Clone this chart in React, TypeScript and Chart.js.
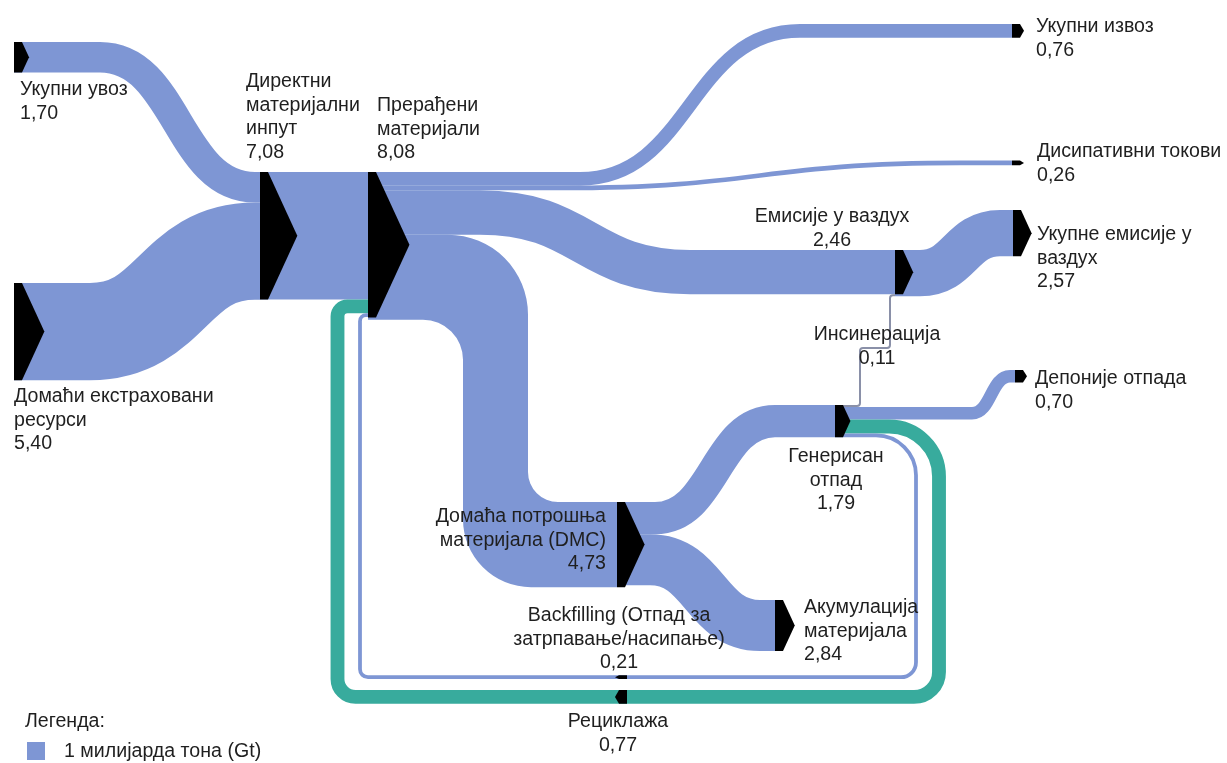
import React, { useEffect, useRef } from 'react';
import { Chart, registerables } from 'chart.js';

Chart.register(...registerables);

// ---------------- data ----------------
const NODE_NAMES = [
  'Укупни увоз',
  'Домаћи екстраховани ресурси',
  'Директни материјални инпут',
  'Прерађени материјали',
  'Укупни извоз',
  'Дисипативни токови',
  'Емисије у ваздух',
  'Укупне емисије у ваздух',
  'Депоније отпада',
  'Генерисан отпад',
  'Домаћа потрошња материјала (DMC)',
  'Акумулација материјала',
  'Рециклажа',
  'Backfilling (Отпад за затрпавање/насипање)',
];
// label lines as printed in the figure
const NODE_LABEL_LINES = [
  ['Укупни увоз'],
  ['Домаћи екстраховани', 'ресурси'],
  ['Директни', 'материјални', 'инпут'],
  ['Прерађени', 'материјали'],
  ['Укупни извоз'],
  ['Дисипативни токови'],
  ['Емисије у ваздух'],
  ['Укупне емисије у', 'ваздух'],
  ['Депоније отпада'],
  ['Генерисан', 'отпад'],
  ['Домаћа потрошња', 'материјала (DMC)'],
  ['Акумулација', 'материјала'],
  ['Рециклажа'],
  ['Backfilling (Отпад за', 'затрпавање/насипање)'],
];
const NODE_VALUES = [1.7, 5.4, 7.08, 8.08, 0.76, 0.26, 2.46, 2.57, 0.7, 1.79, 4.73, 2.84, 0.77, 0.21];

const LINK_SOURCES = [0, 1, 2, 3, 3, 3, 3, 6, 10, 10, 9, 9, 9, 9, 12, 13];
const LINK_TARGETS = [2, 2, 3, 4, 5, 6, 10, 7, 9, 11, 6, 8, 12, 13, 3, 3];
const LINK_VALUES = [1.7, 5.4, 7.08, 0.76, 0.26, 2.46, 4.73, 2.57, 1.79, 2.84, 0.11, 0.7, 0.77, 0.21, 0.77, 0.21];
const LINK_KINDS = [
  'mass', 'mass', 'mass', 'mass', 'mass', 'mass', 'mass', 'mass', 'mass', 'mass',
  'incineration', 'mass', 'recycling', 'backfill', 'recycling', 'backfill',
];
const INCINERATION_LINK = 10;
const INCINERATION_LABEL = 'Инсинерација';

const LEGEND_TITLE = 'Легенда:';
const LEGEND_TEXT = '1 милијарда тона (Gt)';
const LEGEND_VALUE = 1;

// ---------------- layout / style ----------------
const UNITS_PER_GT = 18; // vertical layout units per gigatonne
const NODE_X = [14, 14, 260, 368, 1012, 1012, 895, 1013, 1015, 835, 617, 775, 627, 627];
const NODE_TOP = [42, 283, 172, 172, 24, 160.6, 250, 210, 370, 405, 502, 600, 690, 675.3];
const NODE_DIR = [1, 1, 1, 1, 1, 1, 1, 1, 1, 1, 1, 1, -1, -1];

type Route = {
  s?: [number, number];
  legs?: number[];
  radii?: number[];
  vw?: number; // width of vertical legs (layout units) for filled bands
  radiiA?: number[];
  radiiB?: number[];
};
const LINK_ROUTES: Route[] = [
  { s: [100, 255] },
  { s: [90, 255] },
  { s: [300, 300] },
  { s: [580, 800] },
  { s: [560, 960] },
  { s: [480, 690] },
  { legs: [495.5], vw: 65, radiiA: [80, 30], radiiB: [40, 68] },
  { s: [920, 1000] },
  { s: [655, 775] },
  { s: [650, 760] },
  { legs: [860, 348, 890], radii: [3, 3, 3, 3] },
  { s: [972, 1010] },
  { legs: [939], radii: [50, 25] },
  { legs: [916], radii: [40, 15] },
  { legs: [337.5], radii: [18, 10] },
  { legs: [360], radii: [8, 6] },
];

// [x, y of first line centre, align]
const LABEL_POS: [number, number, CanvasTextAlign][] = [
  [20, 90, 'left'],
  [14, 397, 'left'],
  [246, 82, 'left'],
  [377, 106, 'left'],
  [1036, 27, 'left'],
  [1037, 152, 'left'],
  [832, 217, 'center'],
  [1037, 235, 'left'],
  [1035, 379, 'left'],
  [836, 457, 'center'],
  [606, 517, 'right'],
  [804, 608, 'left'],
  [618, 722, 'center'],
  [619, 616, 'center'],
];
const INCINERATION_LABEL_POS: [number, number] = [877, 335];
const LEGEND_POS = { titleX: 25, titleY: 722, boxX: 27, boxY: 742, textX: 64, textY: 752 };

const LINE_H = 23.5;
const FONT = '19.6px "Liberation Sans", Arial, sans-serif';
const TEXT_COLOR = '#1f1f1f';
const BLUE = '#7e96d4';
const TEAL = '#38ab9d';
const GRAY = '#8a90a8';
const KIND_COLOR: Record<string, string> = { mass: BLUE, backfill: BLUE, recycling: TEAL, incineration: GRAY };

const fmt = (v: number) => v.toFixed(2).replace('.', ',');

type P = [number, number];

function orthoPoints(g: { sx: number; sy: number; tx: number; ty: number }, legs: number[]): P[] {
  const pts: P[] = [[g.sx, g.sy]];
  let cx = g.sx;
  let cy = g.sy;
  let horiz = true;
  legs.forEach((v) => {
    if (horiz) cx = v;
    else cy = v;
    pts.push([cx, cy]);
    horiz = !horiz;
  });
  if (!horiz) {
    cy = g.ty;
    pts.push([cx, cy]);
  }
  pts.push([g.tx, g.ty]);
  return pts;
}

// offset an orthogonal centre line to one side; horizontal legs use ht, vertical legs use vt
function offsetEdge(pts: P[], side: number, ht: number, vt: number): P[] {
  const segs = [];
  for (let k = 0; k < pts.length - 1; k++) {
    const dx = Math.sign(pts[k + 1][0] - pts[k][0]);
    const dy = Math.sign(pts[k + 1][1] - pts[k][1]);
    const nx = -dy;
    const ny = dx;
    const hw = dy === 0 ? ht / 2 : vt / 2;
    segs.push({ ox: side * nx * hw, oy: side * ny * hw, vertical: dy !== 0 });
  }
  const out: P[] = [];
  out.push([pts[0][0] + segs[0].ox, pts[0][1] + segs[0].oy]);
  for (let k = 1; k < pts.length - 1; k++) {
    const a = segs[k - 1];
    const b = segs[k];
    const ox = a.vertical ? a.ox : b.ox;
    const oy = a.vertical ? b.oy : a.oy;
    out.push([pts[k][0] + ox, pts[k][1] + oy]);
  }
  const l = segs[segs.length - 1];
  out.push([pts[pts.length - 1][0] + l.ox, pts[pts.length - 1][1] + l.oy]);
  return out;
}

const sankeyPlugin = {
  id: 'sankeyDraw',
  afterDraw(chart: any) {
    const ctx: CanvasRenderingContext2D = chart.ctx;
    const xs = chart.scales.x;
    const ys = chart.scales.y;
    const px = (v: number) => xs.getPixelForValue(v);
    const py = (v: number) => ys.getPixelForValue(v);
    const xr = (r: number) => Math.abs(xs.getPixelForValue(r) - xs.getPixelForValue(0));
    const thick = (v: number) => Math.abs(ys.getPixelForValue(v * UNITS_PER_GT) - ys.getPixelForValue(0));

    const traceRounded = (pts: P[], radii: number[], start: boolean) => {
      if (start) ctx.moveTo(px(pts[0][0]), py(pts[0][1]));
      else ctx.lineTo(px(pts[0][0]), py(pts[0][1]));
      for (let k = 1; k < pts.length - 1; k++) {
        const rad = xr(radii[k - 1] || 0);
        ctx.arcTo(px(pts[k][0]), py(pts[k][1]), px(pts[k + 1][0]), py(pts[k + 1][1]), rad);
      }
      ctx.lineTo(px(pts[pts.length - 1][0]), py(pts[pts.length - 1][1]));
    };

    // stacking offsets (in layout units)
    const outOff = NODE_VALUES.map(() => 0);
    const inOff = NODE_VALUES.map(() => 0);
    const geo = LINK_VALUES.map((v, i) => {
      const s = LINK_SOURCES[i];
      const t = LINK_TARGETS[i];
      const u = v * UNITS_PER_GT;
      const sy = NODE_TOP[s] + outOff[s] + u / 2;
      const ty = NODE_TOP[t] + inOff[t] + u / 2;
      outOff[s] += u;
      inOff[t] += u;
      return { sx: NODE_X[s], sy, tx: NODE_X[t], ty };
    });

    ctx.save();
    ctx.lineCap = 'butt';
    ctx.lineJoin = 'round';
    LINK_VALUES.forEach((val, i) => {
      const g = geo[i];
      const r = LINK_ROUTES[i];
      const kind = LINK_KINDS[i];
      const u = val * UNITS_PER_GT;
      ctx.beginPath();
      if (r.s) {
        const [xa, xb] = r.s;
        const xm = (xa + xb) / 2;
        ctx.moveTo(px(g.sx), py(g.sy));
        ctx.lineTo(px(xa), py(g.sy));
        ctx.bezierCurveTo(px(xm), py(g.sy), px(xm), py(g.ty), px(xb), py(g.ty));
        ctx.lineTo(px(g.tx), py(g.ty));
      } else if (r.legs && r.vw) {
        const pts = orthoPoints(g, r.legs);
        const edgeA = offsetEdge(pts, -1, u, r.vw);
        const edgeB = offsetEdge(pts, 1, u, r.vw).reverse();
        traceRounded(edgeA, r.radiiA || [], true);
        traceRounded(edgeB, (r.radiiB || []).slice().reverse(), false);
        ctx.closePath();
        ctx.fillStyle = KIND_COLOR[kind];
        ctx.fill();
        return;
      } else if (r.legs) {
        traceRounded(orthoPoints(g, r.legs), r.radii || [], true);
      }
      ctx.strokeStyle = KIND_COLOR[kind];
      ctx.lineWidth = Math.max(kind === 'incineration' ? 1.4 : 2, thick(val));
      ctx.stroke();
    });

    // node markers
    NODE_VALUES.forEach((v, i) => {
      const x = px(NODE_X[i]);
      const top = py(NODE_TOP[i]);
      const h = thick(v);
      const body = 8;
      const d = Math.max(4, 0.23 * h);
      const dir = NODE_DIR[i];
      ctx.beginPath();
      ctx.moveTo(x, top);
      ctx.lineTo(x + dir * body, top);
      ctx.lineTo(x + dir * (body + d), top + h / 2);
      ctx.lineTo(x + dir * body, top + h);
      ctx.lineTo(x, top + h);
      ctx.closePath();
      ctx.fillStyle = '#000000';
      ctx.fill();
    });

    // labels
    ctx.font = FONT;
    ctx.fillStyle = TEXT_COLOR;
    ctx.textBaseline = 'middle';
    NODE_LABEL_LINES.forEach((lines, i) => {
      const [lx, ly, align] = LABEL_POS[i];
      ctx.textAlign = align;
      const all = [...lines, fmt(NODE_VALUES[i])];
      all.forEach((t, k) => ctx.fillText(t, px(lx), py(ly + k * LINE_H)));
    });
    ctx.textAlign = 'center';
    ctx.fillText(INCINERATION_LABEL, px(INCINERATION_LABEL_POS[0]), py(INCINERATION_LABEL_POS[1]));
    ctx.fillText(fmt(LINK_VALUES[INCINERATION_LINK]), px(INCINERATION_LABEL_POS[0]), py(INCINERATION_LABEL_POS[1] + LINE_H));

    // legend
    ctx.textAlign = 'left';
    ctx.fillText(LEGEND_TITLE, px(LEGEND_POS.titleX), py(LEGEND_POS.titleY));
    const sq = thick(LEGEND_VALUE);
    ctx.fillStyle = BLUE;
    ctx.fillRect(px(LEGEND_POS.boxX), py(LEGEND_POS.boxY), sq, sq);
    ctx.fillStyle = TEXT_COLOR;
    ctx.fillText(LEGEND_TEXT, px(LEGEND_POS.textX), py(LEGEND_POS.textY));
    ctx.restore();
  },
};

export default function App() {
  const ref = useRef<HTMLCanvasElement>(null);
  useEffect(() => {
    if (!ref.current) return;
    const chart = new Chart(ref.current, {
      type: 'scatter',
      data: {
        datasets: [
          {
            label: 'nodes',
            data: NODE_X.map((x, i) => ({ x, y: NODE_TOP[i] })),
            pointRadius: 0,
            showLine: false,
          },
        ],
      },
      options: {
        animation: false,
        responsive: true,
        maintainAspectRatio: false,
        events: [],
        layout: { padding: 0 },
        plugins: { legend: { display: false }, tooltip: { enabled: false } },
        scales: {
          x: { type: 'linear', min: 0, max: 1227, display: false },
          y: { type: 'linear', min: 0, max: 763, reverse: true, display: false },
        },
      },
      plugins: [sankeyPlugin],
    } as any);
    return () => chart.destroy();
  }, []);
  return (
    <div style={{ position: 'absolute', left: 0, top: 0, width: 1227, height: 763, background: '#ffffff' }}>
      <canvas ref={ref} />
    </div>
  );
}
